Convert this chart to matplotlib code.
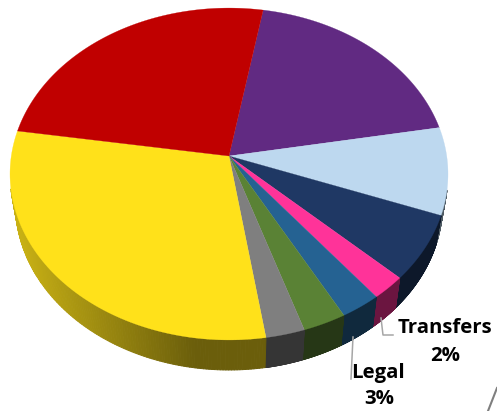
import numpy as np
import matplotlib
matplotlib.use("Agg")
import matplotlib.pyplot as plt
from matplotlib.collections import PolyCollection

# slice shares in percent, clockwise from the red/purple boundary
names = ["Purple", "Light blue", "Navy", "Transfers", "Legal", "Green", "Gray", "Yellow", "Red"]
shares = [19.4, 8.5, 6.4, 2.3, 2.7, 2.9, 2.6, 29.9, 25.3]
colors = ["#612a82", "#bdd8ef", "#1f3864", "#ff3399", "#256292",
          "#5a8235", "#7f7f7f", "#ffe11a", "#c00000"]
start_angle = 80.0

# perspective of the tilted disc, in pixels
cx, cy = 229, 156
a, b, k = 217.7, 164.0, 0.1085
depth = 30
rim_scale = 0.975  # lower rim is a bit narrower than the top
wall_from = 190  # no wall above this y, it is hidden behind the top


def project(theta):
    # unit circle -> picture, with the far side squeezed
    x, y = np.cos(theta), np.sin(theta)
    w = 1 + k * y
    return cx + a * x / w, cy - b * y / w


def side_shade(px):
    # light at the far left, flat dark past the front
    t = np.clip((195 - px) / 175, 0, 1)
    return 0.42 + 0.36 * t


fig = plt.figure(figsize=(4.97, 4.11), dpi=100)
ax = fig.add_axes([0, 0, 1, 1])
ax.set_xlim(0, 497)
ax.set_ylim(411, 0)
ax.axis("off")

edges = start_angle - 3.6 * np.concatenate([[0], np.cumsum(shares)])

# side wall first
quads, quad_colors = [], []
for i, col in enumerate(colors):
    rgb = np.array(matplotlib.colors.to_rgb(col))
    ts = np.radians(np.linspace(edges[i], edges[i + 1], 160))
    px, py = project(ts)
    rx = cx + (px - cx) * rim_scale
    ry = py + depth
    for j in range(len(ts) - 1):
        if py[j] < wall_from:
            continue
        quads.append([(px[j], py[j]), (px[j + 1], py[j + 1]),
                      (rx[j + 1], ry[j + 1]), (rx[j], ry[j])])
        quad_colors.append(tuple(rgb * side_shade(px[j])))
ax.add_collection(PolyCollection(quads, facecolors=quad_colors, edgecolors=quad_colors,
                                 linewidths=0.7, zorder=1))

# top surface
for i, col in enumerate(colors):
    ts = np.radians(np.linspace(edges[i], edges[i + 1], 120))
    px, py = project(ts)
    ax.fill(np.r_[cx, px], np.r_[cy, py], color=col, lw=0.2, zorder=2)

# leader lines
ax.plot([381, 383, 393], [318, 335, 335], color="#a6a6a6", lw=1.1, zorder=3)
ax.plot([353, 351], [337, 379], color="#a6a6a6", lw=1.1, zorder=3)

# stray line in the lower right corner
ax.plot([497, 488], [388, 411], color="#7f7f7f", lw=1.5, zorder=3)

font = dict(family="Open Sans", fontweight="bold", fontsize=14.7, color="black",
            ha="center", va="center")
ax.text(445, 328, "Transfers", **font)
ax.text(445, 356, "2%", **font)
ax.text(378, 373, "Legal", **font)
ax.text(379, 399, "3%", **font)

fig.savefig("out.png", dpi=100)
